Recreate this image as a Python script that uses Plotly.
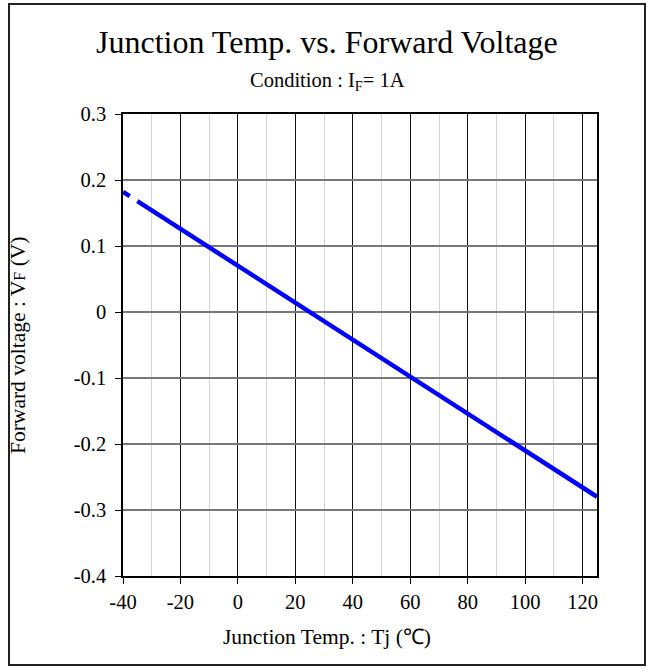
import plotly.graph_objects as go

# ---- data ----
tj_extrap = [-40, -35]          # dashed (extrapolated) part
vf_extrap = [0.182, 0.168]
tj_meas = [-35, 125]            # solid part
vf_meas = [0.168, -0.280]

x_tickvals = [-40, -20, 0, 20, 40, 60, 80, 100, 120]
x_ticktext = ["-40", "-20", "0", "20", "40", "60", "80", "100", "120"]
y_tickvals = [-0.4, -0.3, -0.2, -0.1, 0, 0.1, 0.2, 0.3]
y_ticktext = ["-0.4", "-0.3", "-0.2", "-0.1", "0", "0.1", "0.2", "0.3"]

title_text = "Junction Temp. vs. Forward Voltage"
subtitle_text = "Condition : I<sub>F</sub>= 1A"
x_title = "Junction Temp. : Tj (℃)"
y_title = "Forward voltage : V<span style='font-size:16px'>F</span> (V)"

FONT = "Liberation Serif, Times New Roman, serif"
BLUE = "#0000FF"

W, H = 652, 670
L, R, T, B = 123, 55, 114, 94
pw, ph = W - L - R, H - T - B


def px_x(p):
    return (p - L) / pw


def px_y(p):
    return (H - B - p) / ph


fig = go.Figure()
fig.add_trace(go.Scatter(x=tj_extrap, y=vf_extrap, mode="lines",
                         line=dict(color=BLUE, width=4.5, dash="8px,9px"),
                         showlegend=False, hoverinfo="skip"))
fig.add_trace(go.Scatter(x=tj_meas, y=vf_meas, mode="lines",
                         line=dict(color=BLUE, width=4.5),
                         showlegend=False))

fig.update_layout(
    width=W, height=H,
    margin=dict(l=L, r=R, t=T, b=B, pad=0),
    paper_bgcolor="white", plot_bgcolor="white",
    font=dict(family=FONT, size=20.5, color="black"),
    showlegend=False,
    xaxis=dict(range=[-40, 125], tickmode="array", tickvals=x_tickvals,
               ticktext=x_ticktext, showgrid=True, gridcolor="#111111",
               gridwidth=1, zeroline=False, showline=True, linecolor="black",
               linewidth=1.5, mirror=True, ticks="outside", ticklen=6,
               tickcolor="black", ticklabelstandoff=1,
               minor=dict(dtick=10, tick0=0, showgrid=True,
                          gridcolor="#d4d4d4", gridwidth=1, ticks="")),
    yaxis=dict(range=[-0.4, 0.3], tickmode="array", tickvals=y_tickvals,
               ticktext=y_ticktext, showgrid=True, gridcolor="#777777",
               gridwidth=1.5, zeroline=False, showline=True,
               linecolor="black", linewidth=1.5, mirror=True,
               ticks="outside", ticklen=6, tickcolor="black",
               ticklabelstandoff=5),
    annotations=[
        dict(text=title_text, xref="paper", yref="paper", x=px_x(327),
             y=px_y(42), xanchor="center", yanchor="middle",
             showarrow=False, font=dict(size=32, family=FONT)),
        dict(text=subtitle_text, xref="paper", yref="paper", x=px_x(327),
             y=px_y(81), xanchor="center", yanchor="middle",
             showarrow=False, font=dict(size=20.5, family=FONT)),
        dict(text=x_title, xref="paper", yref="paper", x=px_x(327),
             y=px_y(637), xanchor="center", yanchor="middle",
             showarrow=False, font=dict(size=21.5, family=FONT)),
        dict(text=y_title, xref="paper", yref="paper", x=px_x(18),
             y=0.5, xanchor="center", yanchor="middle", textangle=-90,
             showarrow=False, font=dict(size=21.5, family=FONT)),
    ],
    shapes=[dict(type="rect", xref="paper", yref="paper",
                 x0=px_x(9), x1=px_x(645), y0=px_y(665), y1=px_y(4),
                 line=dict(color="#222222", width=2), layer="below")],
)

fig.write_html("out.html",
               config={"displayModeBar": False},
               post_script="document.body.style.margin='0';"
                           "document.body.style.overflow='hidden';")
